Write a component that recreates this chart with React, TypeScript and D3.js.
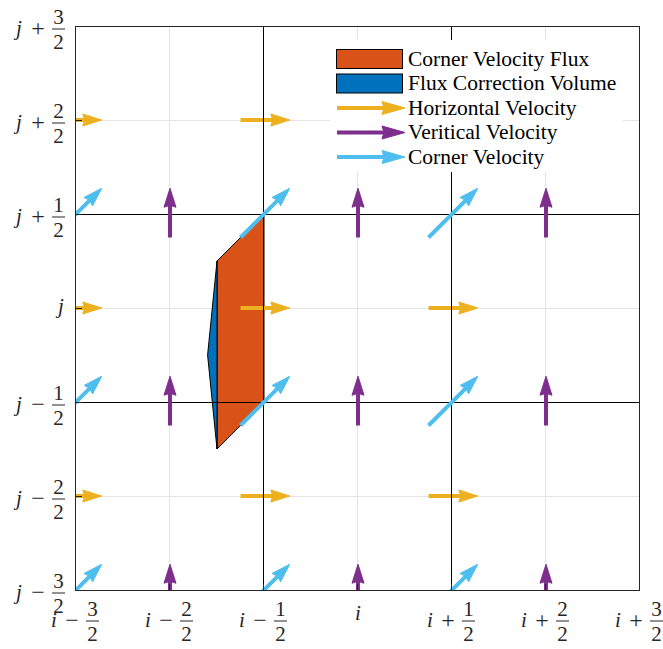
import React from "react";
import * as d3 from "d3";

// ---- data ----
const xTicks = [-1.5, -1, -0.5, 0, 0.5, 1, 1.5];
const xTickLabels = ["i − 3/2", "i − 2/2", "i − 1/2", "i", "i + 1/2", "i + 2/2", "i + 3/2"];
const yTicks = [-1.5, -1, -0.5, 0, 0.5, 1, 1.5];
const yTickLabels = ["j − 3/2", "j − 2/2", "j − 1/2", "j", "j + 1/2", "j + 2/2", "j + 3/2"];

const gridX = [-1, -0.5, 0, 0.5, 1];
const gridY = [-1, -0.5, 0, 0.5, 1];
const cellLinesX = [-0.5, 0.5];
const cellLinesY = [-0.5, 0.5];

// horizontal velocity at vertical faces
const hFaceX = [-1.5, -0.5, 0.5];
const hFaceY = [-1, 0, 1];
// vertical velocity at horizontal faces
const vFaceX = [-1, 0, 1];
const vFaceY = [-1.5, -0.5, 0.5];
// corner velocity
const cornerX = [-1.5, -0.5, 0.5];
const cornerY = [-1.5, -0.5, 0.5];
const arrowTail = -0.125;
const arrowTip = 0.137;

const fluxX = [-0.5, -0.75, -0.75, -0.5];
const fluxY = [0.5, 0.25, -0.75, -0.5];
const corrX = [-0.75, -0.8, -0.75];
const corrY = [0.25, -0.25, -0.75];

const legendLabels = [
  "Corner Velocity Flux",
  "Flux Correction Volume",
  "Horizontal Velocity",
  "Veritical Velocity",
  "Corner Velocity",
];

const C_FLUX = "#D95319";
const C_CORR = "#0072BD";
const C_H = "#EDB120";
const C_V = "#7E2F8E";
const C_C = "#4DBEEE";
const AX = "#262626";
const GRID = "#e4e4e4";
const FONT = "'Liberation Serif', 'Times New Roman', serif";
const FS = 21;

const W = 663, H = 649;
const x = d3.scaleLinear().domain([-1.5, 1.5]).range([76, 640]);
const y = d3.scaleLinear().domain([-1.5, 1.5]).range([590, 26]);

function Arrow({ x0, y0, x1, y1, color, headLen = 17, headW = 6, shaft = 4 }: any) {
  const dx = x1 - x0, dy = y1 - y0;
  const L = Math.sqrt(dx * dx + dy * dy);
  const ux = dx / L, uy = dy / L;
  const px = -uy, py = ux;
  const bx = x1 - ux * headLen, by = y1 - uy * headLen;
  const bx2 = x1 - ux * (headLen + 2), by2 = y1 - uy * (headLen + 2);
  const head = [
    [x1, y1],
    [bx2 + px * headW, by2 + py * headW],
    [bx, by],
    [bx2 - px * headW, by2 - py * headW],
  ];
  return (
    <g>
      <line x1={x0} y1={y0} x2={bx + ux * 1} y2={by + uy * 1} stroke={color} strokeWidth={shaft} />
      <path
        d={"M" + head.map((p) => p.join(",")).join("L") + "Z"}
        fill={color}
        stroke={color}
        strokeWidth={1}
        strokeLinejoin="round"
      />
    </g>
  );
}

function parseLabel(s: string) {
  const parts = s.split(" ");
  if (parts.length === 1) return { base: parts[0] };
  const [num, den] = parts[2].split("/");
  return { base: parts[0], sign: parts[1], num, den };
}

function Frac({ cx, barY, num, den }: any) {
  return (
    <g>
      <text x={cx} y={barY - 5} textAnchor="middle" fontSize={FS} fontFamily={FONT} fill={AX}>{num}</text>
      <line x1={cx - 6.5} x2={cx + 6.5} y1={barY} y2={barY} stroke={AX} strokeWidth={1} />
      <text x={cx} y={barY + 20} textAnchor="middle" fontSize={FS} fontFamily={FONT} fill={AX}>{den}</text>
    </g>
  );
}

export default function App() {
  const hArrows: any[] = [];
  hFaceX.forEach((fx) =>
    hFaceY.forEach((fy) => hArrows.push({ x0: x(fx + arrowTail), y0: y(fy), x1: x(fx + arrowTip), y1: y(fy) }))
  );
  const vArrows: any[] = [];
  vFaceX.forEach((fx) =>
    vFaceY.forEach((fy) => vArrows.push({ x0: x(fx), y0: y(fy + arrowTail), x1: x(fx), y1: y(fy + arrowTip) }))
  );
  const cArrows: any[] = [];
  cornerX.forEach((fx) =>
    cornerY.forEach((fy) =>
      cArrows.push({ x0: x(fx + arrowTail), y0: y(fy + arrowTail), x1: x(fx + arrowTip), y1: y(fy + arrowTip) })
    )
  );
  const poly = (xs: number[], ys: number[]) =>
    "M" + xs.map((v, i) => `${x(v)},${y(ys[i])}`).join("L") + "Z";

  const [x0, x1] = x.range();
  const [y0, y1] = y.range();

  const legX = 330, legY = 40, legW = 293, legH = 132;
  const rowY = (k: number) => 59 + k * 24.5;

  return (
    <svg
      width={W}
      height={H}
      style={{ position: "absolute", left: 0, top: 0, background: "#fff" }}
    >
      <defs>
        <clipPath id="plotclip">
          <rect x={x0} y={y1} width={x1 - x0} height={y0 - y1} />
        </clipPath>
      </defs>
      <rect x={0} y={0} width={W} height={H} fill="#fff" />
      {/* grid */}
      {gridX.map((g) => (
        <line key={"gx" + g} x1={x(g) - 0.5} x2={x(g) - 0.5} y1={y0} y2={y1} stroke={GRID} strokeWidth={1} />
      ))}
      {gridY.map((g) => (
        <line key={"gy" + g} x1={x0} x2={x1} y1={y(g) + 0.5} y2={y(g) + 0.5} stroke={GRID} strokeWidth={1} />
      ))}
      <g clipPath="url(#plotclip)">
        <path d={poly(fluxX, fluxY)} fill={C_FLUX} stroke="#000" strokeWidth={1} strokeLinejoin="round" />
        <path d={poly(corrX, corrY)} fill={C_CORR} stroke="#000" strokeWidth={1} strokeLinejoin="round" />
        {hArrows.map((a, i) => (
          <Arrow key={"h" + i} {...a} color={C_H} />
        ))}
        {cellLinesX.map((g) => (
          <line key={"cx" + g} x1={x(g) - 0.5} x2={x(g) - 0.5} y1={y0} y2={y1} stroke="#000" strokeWidth={1} />
        ))}
        {cellLinesY.map((g) => (
          <line key={"cy" + g} x1={x0} x2={x1} y1={y(g) + 0.5} y2={y(g) + 0.5} stroke="#000" strokeWidth={1} />
        ))}
        {vArrows.map((a, i) => (
          <Arrow key={"v" + i} {...a} color={C_V} />
        ))}
        {cArrows.map((a, i) => (
          <Arrow key={"c" + i} {...a} color={C_C} />
        ))}
      </g>
      {/* ticks */}
      {yTicks.map((t) => (
        <line key={"yt" + t} x1={x0} x2={x0 + 6} y1={y(t) + 0.5} y2={y(t) + 0.5} stroke={AX} strokeWidth={1} />
      ))}
      {xTicks.map((t) => (
        <line key={"xt" + t} x1={x(t) - 0.5} x2={x(t) - 0.5} y1={y0} y2={y0 - 6} stroke={AX} strokeWidth={1} />
      ))}
      {/* box */}
      <rect x={x0 - 0.5} y={y1 + 0.5} width={x1 - x0} height={y0 - y1} fill="none" stroke={AX} strokeWidth={1} />
      {/* x tick labels */}
      {xTicks.map((t, i) => {
        const L = parseLabel(xTickLabels[i]);
        const cx = x(t);
        if (!L.sign)
          return (
            <text key={"xl" + i} x={cx} y={620} textAnchor="middle" fontSize={FS} fontFamily={FONT} fontStyle="italic" fill={AX}>
              {L.base}
            </text>
          );
        const barY = 621;
        return (
          <g key={"xl" + i}>
            <text x={cx - 22} y={barY + 6} textAnchor="middle" fontSize={FS} fontFamily={FONT} fontStyle="italic" fill={AX}>{L.base}</text>
            <text x={cx - 4} y={barY + 7} textAnchor="middle" fontSize={FS + 3} fontFamily={FONT} fill={AX}>{L.sign}</text>
            <Frac cx={cx + 16.5} barY={barY} num={L.num} den={L.den} />
          </g>
        );
      })}
      {/* y tick labels */}
      {yTicks.map((t, i) => {
        const L = parseLabel(yTickLabels[i]);
        const cy = y(t);
        if (!L.sign)
          return (
            <text key={"yl" + i} x={61} y={cy + 5} textAnchor="middle" fontSize={FS} fontFamily={FONT} fontStyle="italic" fill={AX}>
              {L.base}
            </text>
          );
        const barY = cy + 3;
        return (
          <g key={"yl" + i}>
            <text x={19} y={barY + 6} textAnchor="middle" fontSize={FS} fontFamily={FONT} fontStyle="italic" fill={AX}>{L.base}</text>
            <text x={38} y={barY + 7} textAnchor="middle" fontSize={FS + 3} fontFamily={FONT} fill={AX}>{L.sign}</text>
            <Frac cx={58.5} barY={barY} num={L.num} den={L.den} />
          </g>
        );
      })}
      {/* legend */}
      <rect x={legX} y={legY} width={legW} height={legH} fill="#fff" />
      {legendLabels.map((lab, k) => {
        const ry = rowY(k);
        let sym: any = null;
        if (k === 0 || k === 1) {
          sym = <rect x={336.5} y={ry - 9.5} width={66} height={19} fill={k === 0 ? C_FLUX : C_CORR} stroke="#000" strokeWidth={1} />;
        } else {
          const col = k === 2 ? C_H : k === 3 ? C_V : C_C;
          sym = <Arrow x0={337} y0={ry} x1={405} y1={ry} color={col} headLen={21} headW={6.5} />;
        }
        return (
          <g key={"lg" + k}>
            {sym}
            <text x={408} y={ry + 6.5} fontSize={FS + 0.5} fontFamily={FONT} fill="#000">{lab}</text>
          </g>
        );
      })}
    </svg>
  );
}
